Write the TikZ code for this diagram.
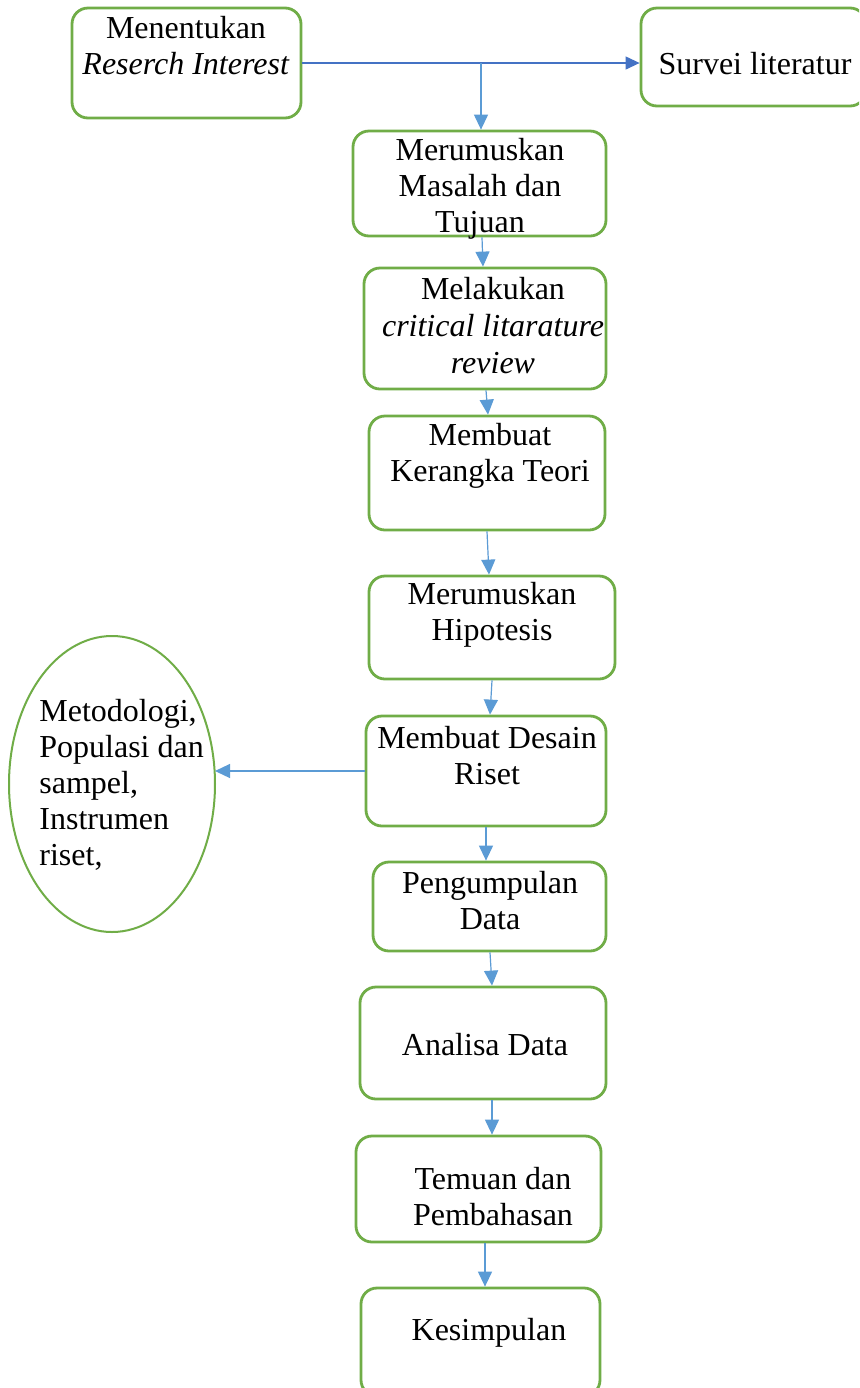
\documentclass[tikz,border=0pt]{standalone}
\usepackage{fontspec}
\setmainfont{Liberation Serif}
\usetikzlibrary{arrows.meta,fit,shapes.geometric}
\definecolor{boxgreen}{HTML}{70AD47}
\definecolor{arrdark}{HTML}{4472C4}
\definecolor{arrlight}{HTML}{5B9BD5}
\begin{document}
\begin{tikzpicture}[x=0.5pt,y=-0.5pt,
  box/.style={draw=boxgreen, line width=1.4pt, rounded corners=8pt, inner sep=0pt},
  txt/.style={font=\fontsize{16}{18}\selectfont, align=center, inner sep=0pt, text=black},
  flow/.style={draw=arrlight, line width=0.6pt, -{Triangle[length=7.5pt,width=7pt]}},
  flowdark/.style={draw=arrdark, line width=0.6pt, -{Triangle[length=7pt,width=6.5pt]}}]
\useasboundingbox (0,0) rectangle (859,1388);
\clip (0,0) rectangle (859,1388);
\fill[white] (0,0) rectangle (859,1388);

% boxes
\node[box, fit={(72,8) (301,118)}] (b1) {};
\node[box, fit={(641,8) (866,106)}] (sv) {};
\node[box, fit={(353,131) (606,236)}] (b2) {};
\node[box, fit={(364,268) (606,389)}] (b3) {};
\node[box, fit={(369,416) (605,530)}] (b4) {};
\node[box, fit={(369,576) (615,679)}] (b5) {};
\node[box, fit={(366,716) (606,826)}] (b6) {};
\node[box, fit={(373,862) (606,951)}] (b7) {};
\node[box, fit={(360,987) (606,1099)}] (b8) {};
\node[box, fit={(356,1136) (601,1242)}] (b9) {};
\node[box, fit={(361,1288) (600,1396)}] (b10) {};
\node[ellipse, draw=boxgreen, line width=1pt, minimum width=103pt, minimum height=148pt, inner sep=0pt] (el) at (112,784) {};

% texts
\node[txt] (t1) at (186,46) {Menentukan\\\textit{Reserch Interest}};
\node[txt] (tsv) at (755,64) {Survei literatur};
\node[txt] (t2) at (480,189) {Merumuskan\\Masalah dan\\Tujuan};
\node[txt, font=\fontsize{16}{18.5}\selectfont] (t3) at (493,326) {Melakukan\\\textit{critical litarature}\\\textit{review}};
\node[txt] (t4) at (490,456) {Membuat\\Kerangka Teori};
\node[txt] (t5) at (492,615) {Merumuskan\\Hipotesis};
\node[txt] (t6) at (487,756) {Membuat Desain\\Riset};
\node[txt] (t7) at (490,901) {Pengumpulan\\Data};
\node[txt] (t8) at (485,1045) {Analisa Data};
\node[txt] (t9) at (493,1197) {Temuan dan\\Pembahasan};
\node[txt] (t10) at (489,1333) {Kesimpulan};
\node[txt, align=left, anchor=west] (tel) at (39,785) {Metodologi,\\Populasi dan\\sampel,\\Instrumen\\riset,};

% connectors
\coordinate (j) at (481,63);
\draw[flowdark] (b1.east |- j) -- (sv.west |- j);
\draw[flow] (j) -- (j |- b2.north);
\draw[flow] (482,0 |- b2.south) -- (483,0 |- b3.north);
\draw[flow] (486,0 |- b3.south) -- (488,0 |- b4.north);
\draw[flow] (487,0 |- b4.south) -- (489,0 |- b5.north);
\draw[flow] (492,0 |- b5.south) -- (490,0 |- b6.north);
\draw[flow] (486,0 |- b6.south) -- (486,0 |- b7.north);
\draw[flow] (490,0 |- b7.south) -- (492,0 |- b8.north);
\draw[flow] (492,0 |- b8.south) -- (492,0 |- b9.north);
\draw[flow] (485,0 |- b9.south) -- (485,0 |- b10.north);
\draw[flow] (b6.west |- 0,771) -- (215,771);
\end{tikzpicture}
\end{document}
